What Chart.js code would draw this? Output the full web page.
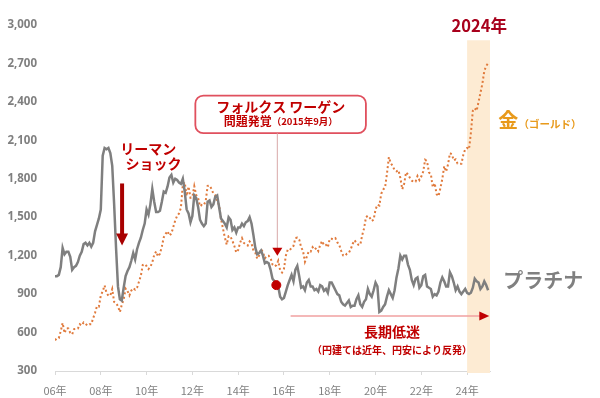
<!DOCTYPE html>
<html>
<head>
<meta charset="utf-8">
<script src="https://cdn.jsdelivr.net/npm/chart.js@4"></script>
<style>
  html, body { margin: 0; padding: 0; background: #fff; }
  #wrap { width: 600px; height: 398px; }
</style>
</head>
<body>
<div id="wrap"><canvas id="metalChart"></canvas></div>
<script>
// monthly averages, USD/oz, Jan 2006 - Dec 2024
var startYear = 2006;

var platinum = [
  1040,1040,1050,1110,1260,1210,1230,1230,1190,1090,1110,1120, // 2006
  1150,1200,1230,1290,1300,1280,1300,1270,1300,1390,1440,1490, // 2007
  1560,1980,2040,2030,2040,2000,1900,1600,1260,960,860,850,    // 2008
  950,1040,1080,1110,1160,1220,1170,1250,1300,1340,1400,1450,  // 2009
  1560,1520,1600,1720,1620,1540,1540,1550,1620,1700,1690,1740, // 2010
  1810,1830,1770,1800,1790,1770,1760,1800,1700,1560,1530,1460, // 2011
  1510,1670,1650,1580,1480,1450,1430,1450,1620,1630,1580,1600, // 2012
  1660,1670,1580,1490,1470,1450,1420,1500,1480,1400,1420,1380, // 2013
  1420,1420,1450,1430,1460,1470,1500,1450,1360,1260,1210,1220, // 2014
  1240,1200,1140,1150,1140,1090,1020,1000,970,960,880,860,     // 2015
  870,920,970,1010,1050,1000,1090,1120,1040,950,960,930,       // 2016
  990,1010,960,960,930,940,920,970,960,925,940,910,            // 2017
  990,990,960,930,900,890,840,820,810,830,850,800,             // 2018
  810,810,860,890,820,800,840,860,940,900,880,930,             // 2019
  990,960,760,770,800,820,880,930,900,870,930,1030,            // 2020
  1100,1200,1170,1200,1200,1130,1090,1010,970,1020,1030,950,   // 2021
  970,1040,1050,960,950,940,880,900,890,920,990,1030,          // 2022
  1000,960,960,1070,1040,990,930,960,920,900,920,940,          // 2023
  910,900,910,950,1020,1000,990,940,960,1000,970,930           // 2024
];

var gold = [
  540,555,557,610,675,596,633,632,598,586,627,629,             // 2006
  631,665,655,679,667,655,665,665,712,754,806,803,             // 2007
  889,922,968,909,888,889,939,839,829,806,760,816,             // 2008
  858,943,924,890,928,946,934,949,996,1043,1127,1134,          // 2009
  1118,1095,1113,1148,1205,1233,1193,1215,1271,1343,1370,1391, // 2010
  1356,1372,1424,1473,1510,1529,1573,1756,1772,1665,1739,1652, // 2011
  1656,1742,1673,1650,1585,1596,1594,1626,1744,1747,1722,1684, // 2012
  1671,1627,1593,1487,1414,1343,1286,1352,1348,1316,1275,1225, // 2013
  1244,1300,1336,1299,1287,1279,1311,1296,1239,1222,1176,1201, // 2014
  1251,1227,1179,1198,1199,1181,1131,1117,1125,1159,1086,1068, // 2015
  1097,1200,1246,1242,1260,1276,1337,1340,1326,1266,1236,1152, // 2016
  1192,1234,1231,1266,1246,1260,1236,1283,1314,1280,1284,1265, // 2017
  1331,1331,1325,1335,1303,1282,1238,1202,1198,1215,1221,1250, // 2018
  1291,1320,1300,1285,1284,1359,1413,1500,1511,1495,1470,1480, // 2019
  1560,1597,1591,1683,1715,1732,1840,1968,1921,1900,1866,1858, // 2020
  1867,1808,1718,1760,1850,1834,1807,1785,1776,1777,1821,1790, // 2021
  1817,1856,1948,1937,1849,1837,1733,1765,1681,1664,1726,1798, // 2022
  1898,1855,1912,1999,1992,1943,1951,1918,1916,1916,1985,2030, // 2023
  2040,2030,2160,2330,2350,2330,2400,2470,2540,2640,2680,2700  // 2024
];

var yTicks = [300, 600, 900, 1200, 1500, 1800, 2100, 2400, 2700, 3000];
var xTickYears = [2006, 2008, 2010, 2012, 2014, 2016, 2018, 2020, 2022, 2024];
var vwIndex = 116;          // Sep 2015
var highlightYear = 2024;
var bandTopValue = 2880;

function toPoints(arr){
  return arr.map(function(v, i){ return {x: startYear + i / 12, y: v}; });
}

var RED = '#c00000';

var notes = {
  id: 'notes',
  beforeDatasetsDraw: function(chart){
    var c = chart.ctx, xs = chart.scales.x, ys = chart.scales.y;
    var x1 = xs.getPixelForValue(highlightYear), x2 = xs.getPixelForValue(highlightYear + 1);
    var top = ys.getPixelForValue(bandTopValue), bot = ys.getPixelForValue(300) + 2;
    c.save();
    c.fillStyle = '#fdebd3';
    c.fillRect(x1, top, x2 - x1, bot - top);
    c.restore();
  },
  afterDraw: function(chart){
    var c = chart.ctx, xs = chart.scales.x, ys = chart.scales.y;
    function px(v){ return xs.getPixelForValue(v); }
    function py(v){ return ys.getPixelForValue(v); }
    var jp = '"Noto Sans CJK JP", sans-serif';
    function text(t, x, y, size, color, align){
      c.font = 'bold ' + size + 'px ' + jp;
      c.fillStyle = color;
      c.textAlign = align || 'center';
      c.textBaseline = 'middle';
      c.fillText(t, x, y);
    }
    function tri(x, y, w, h, dir){
      c.beginPath();
      if (dir === 'down'){ c.moveTo(x - w/2, y - h); c.lineTo(x + w/2, y - h); c.lineTo(x, y); }
      else { c.moveTo(x - h, y - w/2); c.lineTo(x - h, y + w/2); c.lineTo(x, y); }
      c.closePath(); c.fill();
    }
    c.save();

    // 2024 label
    text('2024年', px(2024.53), py(2992), 16.5, '#a8001c');

    // Lehman shock
    text('リーマン', px(2010.07), py(2035), 14, RED);
    text('ショック', px(2010.3), py(1914), 14, RED);
    var lx = px(2008.93);
    c.strokeStyle = '#a80000'; c.lineWidth = 4;
    c.beginPath(); c.moveTo(lx, py(1763)); c.lineTo(lx, py(1360)); c.stroke();
    c.fillStyle = '#a80000';
    tri(lx, py(1280), 12, 12, 'down');

    // VW callout
    var bx1 = px(2012.13), bx2 = px(2019.58), by1 = py(2449), by2 = py(2155);
    c.fillStyle = '#fff'; c.strokeStyle = '#e0505e'; c.lineWidth = 1.8;
    c.beginPath(); c.roundRect(bx1, by1, bx2 - bx1, by2 - by1, 8); c.fill(); c.stroke();
    text('フォルクス ワーゲン', px(2015.86), py(2359), 14, RED);
    c.font = 'bold 12px ' + jp;
    var w1 = c.measureText('問題発覚').width;
    c.font = 'bold 9.5px ' + jp;
    var w2 = c.measureText('（2015年9月）').width;
    var sx = px(2015.86) - (w1 + w2) / 2;
    text('問題発覚', sx, py(2246), 12, RED, 'left');
    text('（2015年9月）', sx + w1, py(2246), 9.5, RED, 'left');
    var vx = px(startYear + vwIndex / 12) + 1;
    c.strokeStyle = '#d8a8a8'; c.lineWidth = 1;
    c.beginPath(); c.moveTo(vx, by2); c.lineTo(vx, py(1250)); c.stroke();
    c.fillStyle = RED;
    tri(vx, py(1200), 10, 8, 'down');

    // long slump arrow
    var ay = py(730);
    c.strokeStyle = '#f0a0a0'; c.lineWidth = 1.5;
    c.beginPath(); c.moveTo(px(2016.29), ay); c.lineTo(px(2024.6), ay); c.stroke();
    c.fillStyle = RED;
    tri(px(2024.97), ay, 9, 10, 'right');
    text('長期低迷', px(2020.72), py(609), 14, RED);
    text('（円建ては近年、円安により反発）', px(2020.72), py(466), 10, RED);

    // series labels
    text('金', px(2025.36), py(2253), 20, '#e89a1c', 'left');
    text('（ゴールド）', px(2026.25), py(2230), 10.5, '#e89a1c', 'left');
    text('プラチナ', px(2025.58), py(1009), 20, '#808080', 'left');
    c.restore();
  }
};

var ctx = document.getElementById('metalChart').getContext('2d');
new Chart(ctx, {
  type: 'line',
  data: {
    datasets: [{
      label: '金',
      data: toPoints(gold),
      borderColor: '#e07a3c',
      borderWidth: 2,
      borderDash: [2, 2.5],
      pointRadius: 0,
      order: 2
    }, {
      label: 'プラチナ',
      data: toPoints(platinum),
      borderColor: '#7f7f7f',
      borderWidth: 2.5,
      pointRadius: 0,
      order: 1
    }, {
      label: 'VW',
      data: [{x: startYear + vwIndex / 12, y: platinum[vwIndex]}],
      pointRadius: 4.5,
      pointBackgroundColor: RED,
      pointBorderColor: RED,
      showLine: false,
      order: 0
    }]
  },
  options: {
    responsive: true,
    maintainAspectRatio: false,
    animation: false,
    layout: { padding: { top: 13, right: 110, left: 0, bottom: 0 } },
    plugins: { legend: { display: false }, tooltip: { enabled: false } },
    scales: {
      x: {
        type: 'linear',
        min: 2006,
        max: 2025,
        afterBuildTicks: function(s){ s.ticks = xTickYears.map(function(v){ return {value: v}; }); },
        afterFit: function(s){ s.height = 27; },
        ticks: {
          color: '#808080',
          padding: 9,
          maxRotation: 0,
          font: { family: '"Noto Sans CJK JP", sans-serif', size: 11 },
          callback: function(v){ return String(v).slice(2) + '年'; }
        },
        grid: { drawOnChartArea: false, color: '#d9d9d9', tickLength: 4 },
        border: { color: '#d9d9d9' }
      },
      y: {
        min: 300,
        max: 3000,
        afterBuildTicks: function(s){ s.ticks = yTicks.map(function(v){ return {value: v}; }); },
        afterFit: function(s){ s.width = 55; },
        ticks: {
          color: '#7f7f7f',
          padding: 18,
          font: { family: '"Noto Sans", sans-serif', size: 11.5, weight: 'bold' },
          callback: function(v){ return v.toLocaleString('en-US'); }
        },
        grid: { display: false, drawTicks: false },
        border: { display: false }
      }
    }
  },
  plugins: [notes]
});
</script>
</body>
</html>
